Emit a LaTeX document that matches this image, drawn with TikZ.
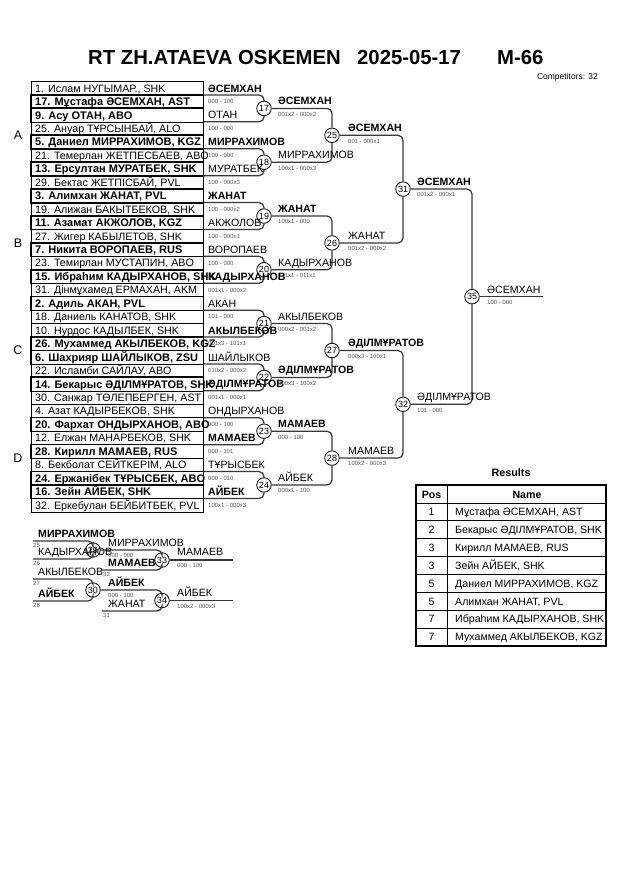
\documentclass[tikz,border=0pt]{standalone}
\usepackage{fontspec}
\setmainfont{Liberation Sans}
\begin{document}
\begin{tikzpicture}[x=1pt,y=-1pt,
  bline/.style={draw=black!78, line width=1.25pt, rounded corners=5pt},
  mc/.style={circle, draw=black, line width=0.8pt, fill=white, minimum size=14.5pt, inner sep=0pt, font=\fontsize{9}{9}\selectfont},
  rowbox/.style={draw=black, line width=0.6pt, minimum width=172pt, minimum height=13.45pt, inner sep=0pt},
  rtxt0/.style={anchor=base west, inner sep=0pt, font=\fontsize{10.7}{11}\selectfont},
  rtxt1/.style={anchor=base west, inner sep=0pt, font=\fontsize{11}{11}\selectfont\bfseries},
  nm0/.style={anchor=base west, inner sep=0pt, font=\fontsize{10.6}{11}\selectfont},
  nm1/.style={anchor=base west, inner sep=0pt, font=\fontsize{10.6}{11}\selectfont\bfseries},
  sc/.style={anchor=base west, inner sep=0pt, text=black!65, font=\fontsize{6}{6}\selectfont},
  tiny/.style={anchor=base west, inner sep=0pt, text=black!65, font=\fontsize{6}{6}\selectfont},
  pool/.style={font=\fontsize{12.5}{12}\selectfont, inner sep=0pt},
  restxt/.style={anchor=base west, inner sep=0pt, font=\fontsize{10.6}{11}\selectfont},
  respos/.style={anchor=base, inner sep=0pt, font=\fontsize{10.6}{11}\selectfont},
  ttl/.style={anchor=base west, inner sep=0pt, font=\fontsize{20.3}{21}\selectfont\bfseries},
]
\useasboundingbox[fill=white] (0,0) rectangle (630,891);

% ---------- title ----------
\node[ttl] (title1) at (88,65) {RT ZH.ATAEVA OSKEMEN};
\node[ttl] (title2) at (357,65) {2025-05-17};
\node[ttl] (title3) at (497,65) {M-66};
\node[anchor=base east, inner sep=0pt, font=\fontsize{8.5}{9}\selectfont] (comp) at (598,79) {Competitors: 32};

% ---------- pools ----------
\node[pool] (pA) at (18,135.3) {A};
\node[pool] (pB) at (18,242.9) {B};
\node[pool] (pC) at (18,350.5) {C};
\node[pool] (pD) at (18,458.1) {D};

% ---------- competitor rows ----------
\def\rowlist{1/0/{1. Ислам НУГЫМАР., SHK},
2/1/{17. Мұстафа ӘСЕМХАН, AST},
3/1/{9. Асу ОТАН, ABO},
4/0/{25. Ануар ТҰРСЫНБАЙ, ALO},
5/1/{5. Даниел МИРРАХИМОВ, KGZ},
6/0/{21. Темерлан ЖЕТПЕСБАЕВ, ABO},
7/1/{13. Ерсултан МУРАТБЕК, SHK},
8/0/{29. Бектас ЖЕТПІСБАЙ, PVL},
9/1/{3. Алимхан ЖАНАТ, PVL},
10/0/{19. Алижан БАКЫТБЕКОВ, SHK},
11/1/{11. Азамат АКЖОЛОВ, KGZ},
12/0/{27. Жигер КАБЫЛЕТОВ, SHK},
13/1/{7. Никита ВОРОПАЕВ, RUS},
14/0/{23. Темирлан МУСТАПИН, ABO},
15/1/{15. Ибраһим КАДЫРХАНОВ, SHK},
16/0/{31. Дінмұхамед ЕРМАХАН, AKM},
17/1/{2. Адиль АКАН, PVL},
18/0/{18. Даниель КАНАТОВ, SHK},
19/0/{10. Нурдос КАДЫЛБЕК, SHK},
20/1/{26. Мухаммед АКЫЛБЕКОВ, KGZ},
21/1/{6. Шахрияр ШАЙЛЫКОВ, ZSU},
22/0/{22. Исламби САЙЛАУ, ABO},
23/1/{14. Бекарыс ӘДІЛМҰРАТОВ, SHK},
24/0/{30. Санжар ТӨЛЕПБЕРГЕН, AST},
25/0/{4. Азат КАДЫРБЕКОВ, SHK},
26/1/{20. Фархат ОНДЫРХАНОВ, ABO},
27/0/{12. Елжан МАНАРБЕКОВ, SHK},
28/1/{28. Кирилл МАМАЕВ, RUS},
29/0/{8. Бекболат СЕЙТКЕРІМ, ALO},
30/1/{24. Ержанібек ТҰРЫСБЕК, ABO},
31/1/{16. Зейн АЙБЕК, SHK},
32/0/{32. Еркебулан БЕЙБИТБЕК, PVL}}

\foreach \RI/\RW/\RT in \rowlist {
  \pgfmathsetmacro\yc{88.225+13.45*(\RI-1)}
  \node[rowbox] (row\RI) at (117,\yc) {};
}
\foreach \RI/\RW/\RT in \rowlist {
  \pgfmathsetmacro\yb{88.225+13.45*(\RI-1)+3.9}
  \ifnum\RW=1
    \draw[line width=1.3pt] (row\RI.north west) rectangle (row\RI.south east);
  \fi
  \node[rtxt\RW] (rt\RI) at (35,\yb) {\RT};
}

% ---------- match circles ----------
\foreach \k in {0,...,7} {
  \pgfmathtruncatemacro\m{17+\k}
  \pgfmathsetmacro\yy{108.4+53.8*\k}
  \node[mc] (m\m) at (264,\yy) {\m};
}
\foreach \k in {0,...,3} {
  \pgfmathtruncatemacro\m{25+\k}
  \pgfmathsetmacro\yy{135.3+107.6*\k}
  \node[mc] (m\m) at (332,\yy) {\m};
}
\node[mc] (m31) at (403,189.1) {31};
\node[mc] (m32) at (403,404.3) {32};
\node[mc] (m35) at (472,296.7) {35};

% ---------- connectors ----------
\foreach \k in {0,...,7} {
  \pgfmathtruncatemacro\m{17+\k}
  \pgfmathsetmacro\ya{94.95+53.8*\k}
  \pgfmathsetmacro\yb{121.85+53.8*\k}
  \coordinate (in\m-a) at (204,\ya);
  \coordinate (in\m-b) at (204,\yb);
  \draw[bline] (in\m-a) -| (m\m);
  \draw[bline] (in\m-b) -| (m\m);
}
\foreach \a/\t in {17/25,18/25,19/26,20/26,21/27,22/27,23/28,24/28,25/31,26/31,27/32,28/32,31/35,32/35}
  \draw[bline] (m\a) -| (m\t);
\coordinate (fin) at (543,296.7);
\draw[bline] (m35) -- (fin);

% ---------- column 2 (first-round winners) ----------
\foreach \RI/\RW/\RT in {1/1/ӘСЕМХАН, 3/0/ОТАН, 5/1/МИРРАХИМОВ, 7/0/МУРАТБЕК,
  9/1/ЖАНАТ, 11/0/АКЖОЛОВ, 13/0/ВОРОПАЕВ, 15/1/КАДЫРХАНОВ,
  17/0/АКАН, 19/1/АКЫЛБЕКОВ, 21/0/ШАЙЛЫКОВ, 23/1/ӘДІЛМҰРАТОВ,
  25/0/ОНДЫРХАНОВ, 27/1/МАМАЕВ, 29/0/ТҰРЫСБЕК, 31/1/АЙБЕК} {
  \pgfmathsetmacro\yb{88.225+13.45*(\RI-1)+3.8}
  \node[nm\RW] (c2n\RI) at (208,\yb) {\RT};
}
\foreach \RI/\RT in {2/{000 - 100}, 4/{100 - 000}, 6/{100 - 000}, 8/{100 - 000x3},
  10/{100 - 000x2}, 12/{100 - 000x1}, 14/{100 - 000}, 16/{001x1 - 000x2},
  18/{101 - 000}, 20/{001x3 - 101x1}, 22/{010x2 - 000x2}, 24/{001x1 - 000x1},
  26/{000 - 100}, 28/{000 - 101}, 30/{000 - 010}, 32/{100x1 - 000x3}} {
  \pgfmathsetmacro\yb{88.225+13.45*(\RI-1)+2.1}
  \node[sc] (c2s\RI) at (208,\yb) {\RT};
}

% ---------- column 3 ----------
\foreach \k/\RW/\RT/\RS in {0/1/ӘСЕМХАН/{001x2 - 000x2}, 1/0/МИРРАХИМОВ/{100x1 - 000x3},
  2/1/ЖАНАТ/{100x1 - 000}, 3/0/КАДЫРХАНОВ/{001x1 - 011x1},
  4/0/АКЫЛБЕКОВ/{000x2 - 001x2}, 5/1/ӘДІЛМҰРАТОВ/{000x3 - 100x2},
  6/1/МАМАЕВ/{000 - 100}, 7/0/АЙБЕК/{000x1 - 100}} {
  \pgfmathsetmacro\ya{108.4+53.8*\k-3.6}
  \pgfmathsetmacro\yb{108.4+53.8*\k+7.8}
  \node[nm\RW] (c3n\k) at (278,\ya) {\RT};
  \node[sc] (c3s\k) at (278,\yb) {\RS};
}

% ---------- column 4 ----------
\foreach \k/\RW/\RT/\RS in {0/1/ӘСЕМХАН/{001 - 000x1}, 1/0/ЖАНАТ/{001x2 - 000x2},
  2/1/ӘДІЛМҰРАТОВ/{000x3 - 100x1}, 3/0/МАМАЕВ/{100x2 - 000x3}} {
  \pgfmathsetmacro\ya{135.3+107.6*\k-3.6}
  \pgfmathsetmacro\yb{135.3+107.6*\k+7.8}
  \node[nm\RW] (c4n\k) at (348,\ya) {\RT};
  \node[sc] (c4s\k) at (348,\yb) {\RS};
}

% ---------- column 5 and final ----------
\node[nm1] (c5n0) at (417,185.5) {ӘСЕМХАН};
\node[sc] (c5s0) at (417,196.9) {001x2 - 000x1};
\node[nm0] (c5n1) at (417,400.7) {ӘДІЛМҰРАТОВ};
\node[sc] (c5s1) at (417,412.1) {101 - 000};
\node[nm0] (c6n) at (487,293.1) {ӘСЕМХАН};
\node[sc] (c6s) at (487,304.5) {100 - 000};

% ---------- repechage ----------
\node[mc] (m29) at (93,550) {29};
\node[mc] (m33) at (162,560) {33};
\node[mc] (m30) at (93,590) {30};
\node[mc] (m34) at (162,600.5) {34};

\coordinate (r25) at (33,541);
\coordinate (r26) at (33,559);
\coordinate (r32) at (102,570);
\coordinate (r27) at (33,579);
\coordinate (r28) at (33,601);
\coordinate (r31) at (102,611);
\coordinate (o33) at (233,560);
\coordinate (o34) at (233,600.5);
\draw[bline] (r25) -| (m29);
\draw[bline] (r26) -| (m29);
\draw[bline] (r27) -| (m30);
\draw[bline] (r28) -| (m30);
\draw[bline] (m29) -| (m33);
\draw[bline] (r32) -| (m33);
\draw[bline] (m30) -| (m34);
\draw[bline] (r31) -| (m34);
\draw[bline] (m33) -- (o33);
\draw[bline] (m34) -- (o34);

\node[nm1] (rn1) at (38,537) {МИРРАХИМОВ};
\node[tiny] (rt25) at (33,547) {25};
\node[nm0] (rn2) at (38,555.5) {КАДЫРХАНОВ};
\node[tiny] (rt26) at (33,565) {26};
\node[nm0] (rn3) at (38,575.5) {АКЫЛБЕКОВ};
\node[tiny] (rt27) at (33,585) {27};
\node[nm1] (rn4) at (38,597) {АЙБЕК};
\node[tiny] (rt28) at (33,607) {28};

\node[nm0] (rn5) at (108,546.3) {МИРРАХИМОВ};
\node[sc] (rs5) at (108,557.4) {000 - 000};
\node[nm1] (rn6) at (108,566.2) {МАМАЕВ};
\node[tiny] (rt32) at (103,576) {32};
\node[nm1] (rn7) at (108,586.2) {АЙБЕК};
\node[sc] (rs7) at (108,597.6) {000 - 100};
\node[nm0] (rn8) at (108,607) {ЖАНАТ};
\node[tiny] (rt31) at (103,617) {31};

\node[nm0] (rn9) at (177,555.5) {МАМАЕВ};
\node[sc] (rs9) at (177,567.6) {000 - 100};
\node[nm0] (rn10) at (177,596.5) {АЙБЕК};
\node[sc] (rs10) at (177,608.1) {100x2 - 000x3};

% ---------- results table ----------
\node[anchor=base, inner sep=0pt, font=\fontsize{10.8}{11}\selectfont\bfseries] (restitle) at (511,476) {Results};
\draw[line width=0.6pt] (447,485) -- (447,646);
\foreach \j in {1,...,8} {
  \pgfmathsetmacro\yl{485+17.89*\j}
  \draw[line width=0.6pt] (416,\yl) -- (606,\yl);
}
\draw[line width=1.4pt] (416,485) rectangle (606,646);
\node[respos, font=\fontsize{10.6}{11}\selectfont\bfseries] (hpos) at (431.5,498.8) {Pos};
\node[respos, font=\fontsize{10.6}{11}\selectfont\bfseries] (hname) at (527,498.8) {Name};
\foreach \j/\p/\RT in {1/1/{Мұстафа ӘСЕМХАН, AST}, 2/2/{Бекарыс ӘДІЛМҰРАТОВ, SHK},
  3/3/{Кирилл МАМАЕВ, RUS}, 4/3/{Зейн АЙБЕК, SHK}, 5/5/{Даниел МИРРАХИМОВ, KGZ},
  6/5/{Алимхан ЖАНАТ, PVL}, 7/7/{Ибраһим КАДЫРХАНОВ, SHK}, 8/7/{Мухаммед АКЫЛБЕКОВ, KGZ}} {
  \pgfmathsetmacro\yb{485+17.89*\j+8.95+3.8}
  \node[respos] (rp\j) at (431.5,\yb) {\p};
  \node[restxt] (rname\j) at (455,\yb) {\RT};
}
\end{tikzpicture}
\end{document}
